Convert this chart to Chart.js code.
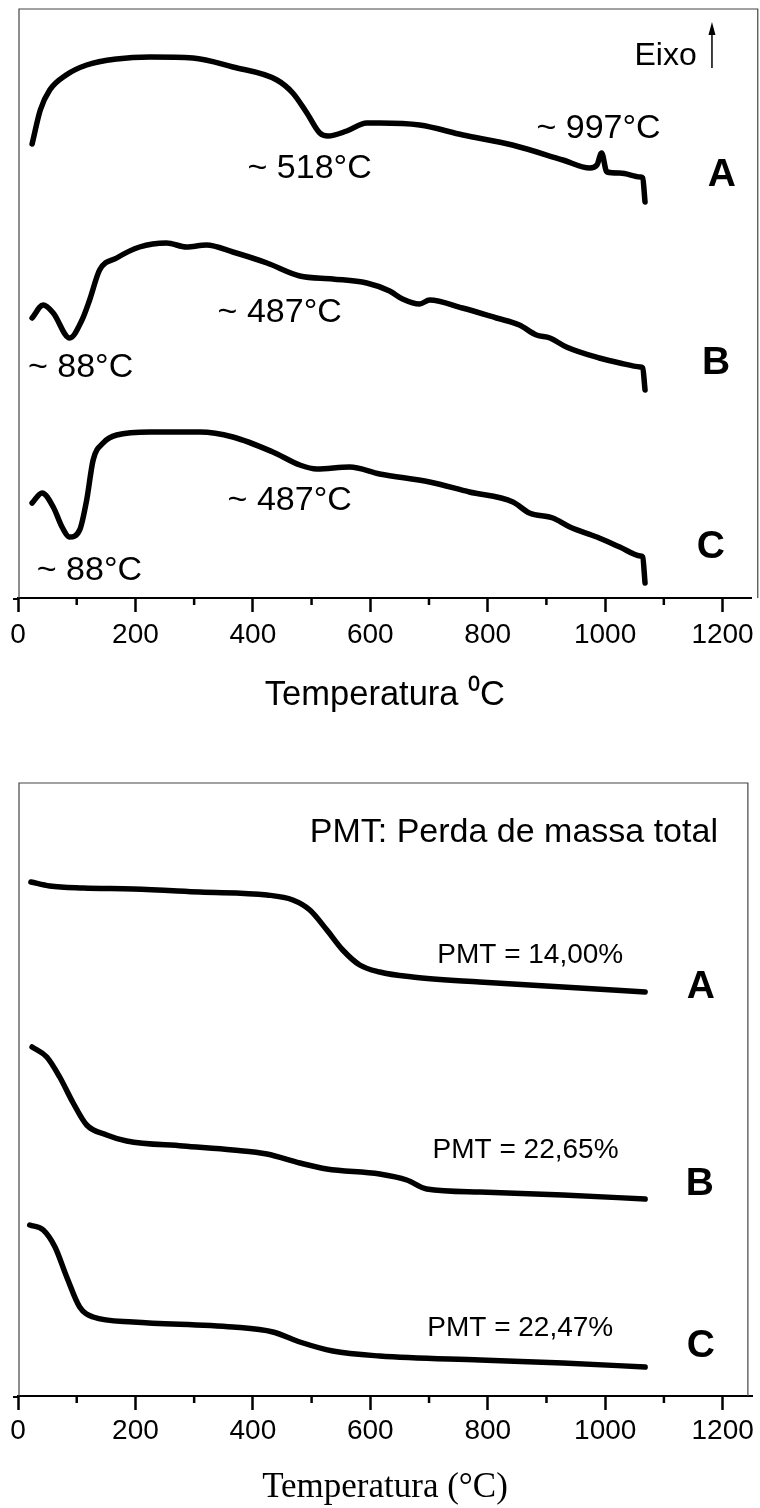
<!DOCTYPE html>
<html><head><meta charset="utf-8">
<script src="https://cdn.jsdelivr.net/npm/chart.js@4.4.1/dist/chart.umd.min.js"></script>
<style>
html,body{margin:0;padding:0;background:#fff;overflow:hidden;}
#wrap{position:relative;width:760px;height:1508px;background:#fff;}
canvas{position:absolute;left:0;}
#c1{top:0;}
#c2{top:775px;}
</style></head><body>
<div id="wrap"><canvas id="c1" width="760" height="775"></canvas><canvas id="c2" width="760" height="733"></canvas></div>
<script>
// ---------- data ----------
const tempTicks = [0, 200, 400, 600, 800, 1000, 1200];
const tempMinorTicks = [100, 300, 500, 700, 900, 1100];

// DTA (top) - temperature (°C) and signal (arbitrary units, exo up)
const dtaA_T = [24,38,54,82,117,168,225,298,366,441,468,492,514,528,560,594,616,684,758,842,928,974,986,994,1003,1025,1060,1064,1068];
const dtaA_S = [454,488,508,523,533,539,541,540,531,518,505,485,465,462,467,475,475,473,463,453,438,430,433,445,426,425,421,420,396];

const dtaB_T = [24,43,60,88,109,122,139,168,207,253,287,321,366,424,480,536,594,633,655,684,701,757,815,854,883,906,934,990,1025,1060,1064,1068];
const dtaB_S = [280,293,285,260,278,298,328,340,351,355,351,353,346,335,322,319,315,307,299,294,298,290,280,273,263,260,251,240,235,231,230,208];

const dtaC_T = [24,41,60,75,88,105,117,128,145,168,225,310,366,434,480,509,565,616,701,769,843,871,911,940,986,1025,1060,1064,1068];
const dtaC_S = [95,105,91,71,61,68,98,138,155,163,166,166,161,146,133,129,131,124,116,106,96,85,80,71,61,51,42,41,15];

// TGA (bottom) - temperature (°C) and mass (arbitrary units, curves offset)
const tgaA_T = [22,54,111,196,310,424,468,497,526,553,582,616,672,786,928,1068];
const tgaA_M = [514,510,508,507,504,501,496,486,466,446,431,424,419,414,409,404];

const tgaB_T = [24,49,71,94,117,151,185,281,366,424,480,526,616,662,696,787,928,1068];
const tgaB_M = [349,339,319,293,271,261,255,250,246,242,233,227,222,216,207,204,201,197];

const tgaC_T = [20,43,63,83,105,128,196,366,434,480,536,616,787,928,1068];
const tgaC_M = [171,166,149,119,89,79,74,69,64,54,45,40,36,33,29];

// ---------- helpers ----------
const SANS = '"Liberation Sans", Arial, Helvetica, sans-serif';
const SERIF = '"Liberation Serif", "Times New Roman", serif';
const pts = (T, V) => T.map((t, i) => ({x: t, y: V[i]}));
const ds = (T, V) => ({
  data: pts(T, V), borderColor: '#000', borderWidth: 5.5, pointRadius: 0,
  borderCapStyle: 'round', borderJoinStyle: 'round', cubicInterpolationMode: 'monotone', fill: false
});

const decorPlugin = {
  id: 'decor',
  afterDraw(chart, args, opts) {
    const {ctx, chartArea, scales: {x, y}} = chart;
    ctx.save();
    // frame (left, top, right)
    ctx.strokeStyle = '#444'; ctx.lineWidth = 1.2;
    const xr = x.getPixelForValue(opts.boxMax);
    ctx.beginPath();
    ctx.moveTo(chartArea.left + 1, chartArea.bottom);
    ctx.lineTo(chartArea.left + 1, chartArea.top);
    ctx.lineTo(xr, chartArea.top);
    ctx.lineTo(xr, chartArea.bottom);
    ctx.stroke();
    // small extension of the axis line to the left
    ctx.strokeStyle = '#000'; ctx.lineWidth = 2;
    ctx.beginPath(); ctx.moveTo(chartArea.left - 5, chartArea.bottom + 1); ctx.lineTo(chartArea.left, chartArea.bottom + 1); ctx.stroke();
    // minor ticks
    ctx.lineWidth = 2.5;
    for (const v of tempMinorTicks) {
      const px = x.getPixelForValue(v);
      ctx.beginPath(); ctx.moveTo(px, chartArea.bottom); ctx.lineTo(px, chartArea.bottom + 7); ctx.stroke();
    }
    // annotations
    ctx.fillStyle = '#000';
    ctx.textBaseline = 'alphabetic';
    for (const a of opts.items) {
      ctx.font = a.font;
      ctx.textAlign = a.align || 'left';
      ctx.fillText(a.text, x.getPixelForValue(a.x), y.getPixelForValue(a.y));
    }
    if (opts.arrow) {
      const ax = x.getPixelForValue(opts.arrow.x);
      const y1 = y.getPixelForValue(opts.arrow.y1), y2 = y.getPixelForValue(opts.arrow.y2);
      ctx.strokeStyle = '#000'; ctx.lineWidth = 1.5;
      ctx.beginPath(); ctx.moveTo(ax, y1); ctx.lineTo(ax, y2 + 10); ctx.stroke();
      ctx.beginPath(); ctx.moveTo(ax, y2); ctx.lineTo(ax - 3.5, y2 + 13); ctx.lineTo(ax + 3.5, y2 + 13); ctx.closePath(); ctx.fill();
    }
    ctx.restore();
  }
};

function makeChart(id, datasets, cfg) {
  return new Chart(document.getElementById(id), {
    type: 'line',
    data: {datasets},
    plugins: [decorPlugin],
    options: {
      responsive: false, animation: false, events: [], devicePixelRatio: 1,
      layout: {padding: {left: 18, right: 8, top: cfg.padTop, bottom: 0}},
      plugins: {legend: {display: false}, tooltip: {enabled: false}, decor: cfg.decor},
      scales: {
        x: {
          type: 'linear', min: 0, max: 1250,
          afterBuildTicks: s => { s.ticks = tempTicks.map(v => ({value: v})); },
          afterFit: s => { s.height = cfg.xHeight; },
          ticks: {autoSkip: false, maxRotation: 0, includeBounds: false, padding: cfg.tickPad,
                  callback: v => String(v),
                  color: '#000', font: {family: SANS, size: 28}},
          grid: {display: true, drawOnChartArea: false, drawTicks: true, tickLength: 14, tickWidth: 2.5, tickColor: '#000'},
          border: {display: true, color: '#000', width: 2},
          title: {display: true, text: cfg.title, color: '#000', font: cfg.titleFont, padding: cfg.titlePad}
        },
        y: {type: 'linear', display: false, min: 0, max: cfg.yMax}
      }
    }
  });
}

// ---------- top: DTA ----------
const F_ANN = '34px ' + SANS;
const F_BOLD = 'bold 39px ' + SANS;
const F_PMT = '28px ' + SANS;

makeChart('c1', [ds(dtaA_T, dtaA_S), ds(dtaB_T, dtaB_S), ds(dtaC_T, dtaC_S)], {
  padTop: 9, xHeight: 177, tickPad: 6, yMax: 589,
  title: 'Temperatura \u2070C',
  titleFont: {family: SANS, size: 34.5, lineHeight: 1.2},
  titlePad: {top: 0, bottom: 59},
  decor: {
    boxMax: 1260,
    items: [
      {text: '~ 518°C', x: 391, y: 420, font: F_ANN},
      {text: '~ 997°C', x: 883, y: 460, font: F_ANN},
      {text: 'Eixo', x: 1050, y: 533, font: '32px ' + SANS},
      {text: 'A', x: 1199, y: 412, font: F_BOLD, align: 'center'},
      {text: '~ 487°C', x: 340, y: 276, font: F_ANN},
      {text: '~ 88°C', x: 17, y: 221, font: F_ANN},
      {text: 'B', x: 1189, y: 224, font: F_BOLD, align: 'center'},
      {text: '~ 487°C', x: 357, y: 88, font: F_ANN},
      {text: '~ 88°C', x: 32, y: 18, font: F_ANN},
      {text: 'C', x: 1180, y: 40, font: F_BOLD, align: 'center'}
    ],
    arrow: {x: 1182, y1: 530, y2: 576}
  }
});

// ---------- bottom: TGA ----------
makeChart('c2', [ds(tgaA_T, tgaA_M), ds(tgaB_T, tgaB_M), ds(tgaC_T, tgaC_M)], {
  padTop: 8, xHeight: 112, tickPad: 4, yMax: 613,
  title: 'Temperatura (°C)',
  titleFont: {family: SERIF, size: 35, lineHeight: 1},
  titlePad: {top: 0, bottom: 3},
  decor: {
    boxMax: 1243,
    items: [
      {text: 'PMT: Perda de massa total', x: 1192, y: 554, font: '34px ' + SANS, align: 'right'},
      {text: 'PMT = 14,00%', x: 714, y: 433, font: F_PMT},
      {text: 'A', x: 1163, y: 398, font: F_BOLD, align: 'center'},
      {text: 'PMT = 22,65%', x: 706, y: 238, font: F_PMT},
      {text: 'B', x: 1161, y: 201, font: F_BOLD, align: 'center'},
      {text: 'PMT = 22,47%', x: 697, y: 60, font: F_PMT},
      {text: 'C', x: 1163, y: 39, font: F_BOLD, align: 'center'}
    ]
  }
});
</script>
</body></html>
